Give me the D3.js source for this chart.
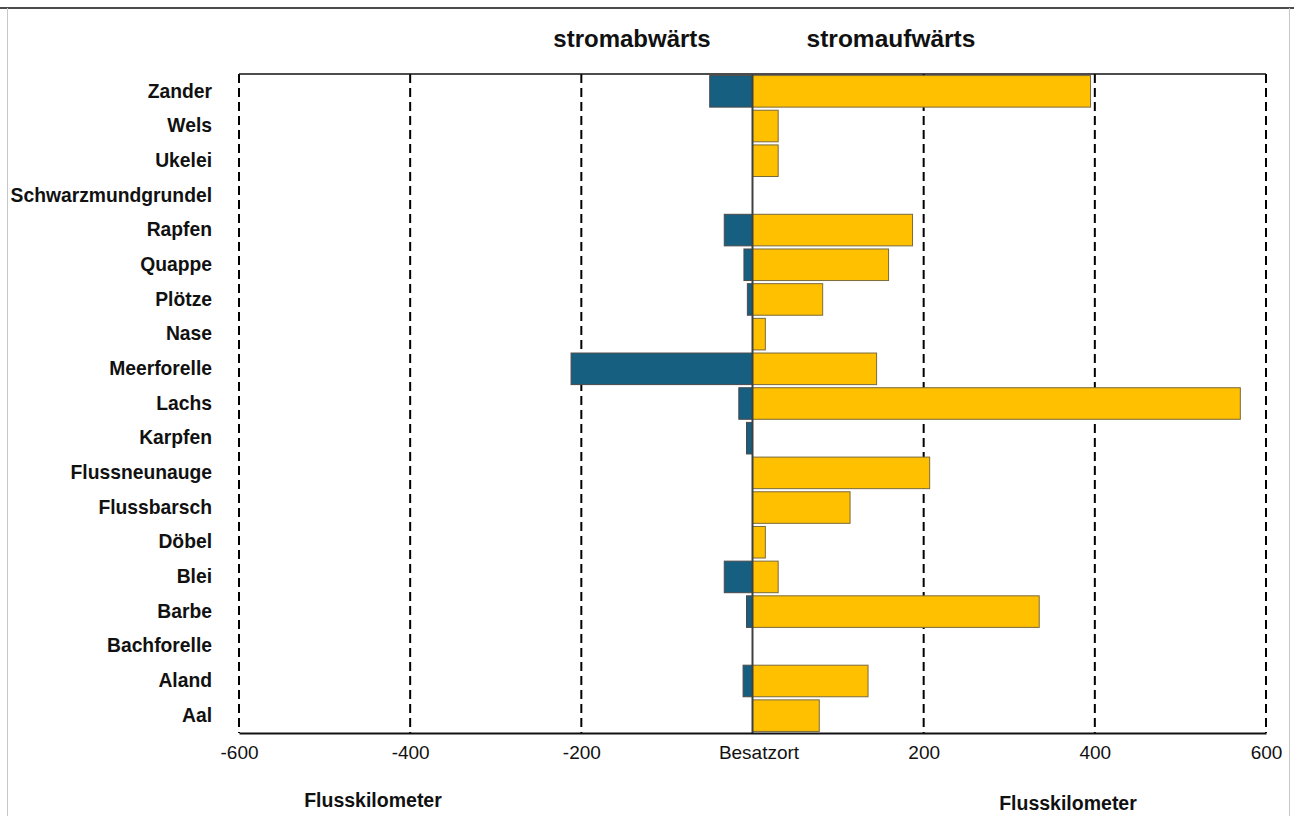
<!DOCTYPE html>
<html>
<head>
<meta charset="utf-8">
<script src="https://cdn.jsdelivr.net/npm/d3@7/dist/d3.min.js"></script>
<style>
  html, body { margin: 0; padding: 0; background: #fff; }
  svg { display: block; font-family: "Liberation Sans", Arial, sans-serif; }
</style>
</head>
<body>
<svg id="chart" width="1294" height="816"></svg>
<script>
// Fish species (top to bottom)
const species = ["Zander", "Wels", "Ukelei", "Schwarzmundgrundel", "Rapfen", "Quappe", "Plötze",
  "Nase", "Meerforelle", "Lachs", "Karpfen", "Flussneunauge", "Flussbarsch", "Döbel",
  "Blei", "Barbe", "Bachforelle", "Aland", "Aal"];
// Maximum distance migrated downstream (km, negative)
const downstream = [-50, 0, 0, 0, -33, -10, -6, 0, -212, -16, -7, 0, 0, 0, -33, -7, 0, -11, 0];
// Maximum distance migrated upstream (km)
const upstream = [395, 30, 30, 0, 187, 159, 82, 15, 145, 570, 0, 207, 114, 15, 30, 335, 0, 135, 78];
// Axis ticks
const tickValues = [-600, -400, -200, 0, 200, 400, 600];
const tickLabels = ["-600", "-400", "-200", "Besatzort", "200", "400", "600"];

const svg = d3.select("#chart");
const plotLeft = 239, plotRight = 1266, plotTop = 74, plotBottom = 733;
const font = "'Liberation Sans', Arial, sans-serif";

const x = d3.scaleLinear().domain([-600, 600]).range([plotLeft, plotRight]);
const y = d3.scaleBand().domain(species).range([plotTop, plotBottom]).paddingInner(0.09).paddingOuter(0.045);

// Outer frame
svg.append("line").attr("x1", 0).attr("x2", 1294).attr("y1", 8).attr("y2", 8)
  .attr("stroke", "#111").attr("stroke-width", 1.5);
svg.append("line").attr("x1", 7.5).attr("x2", 7.5).attr("y1", 8).attr("y2", 816)
  .attr("stroke", "#c8c8c8").attr("stroke-width", 1);
svg.append("line").attr("x1", 1289.5).attr("x2", 1289.5).attr("y1", 8).attr("y2", 816)
  .attr("stroke", "#c8c8c8").attr("stroke-width", 1);

// Dashed gridlines
svg.append("g").selectAll("line")
  .data(tickValues.filter(d => d !== 0))
  .join("line")
  .attr("x1", d => x(d)).attr("x2", d => x(d))
  .attr("y1", plotTop).attr("y2", plotBottom)
  .attr("stroke", "#000").attr("stroke-width", 2)
  .attr("stroke-dasharray", "9,5");

// Top border of plot area
svg.append("line").attr("x1", plotLeft).attr("x2", plotRight).attr("y1", plotTop).attr("y2", plotTop)
  .attr("stroke", "#111").attr("stroke-width", 1.5);

// Bars
const dsColor = "#175f80", usColor = "#ffc000";
svg.append("g").selectAll("rect")
  .data(species.map((s, i) => ({ s, v: downstream[i] })).filter(d => d.v !== 0))
  .join("rect")
  .attr("x", d => x(d.v)).attr("width", d => x(0) - x(d.v))
  .attr("y", d => y(d.s)).attr("height", y.bandwidth())
  .attr("fill", dsColor).attr("stroke", "#4a4a4a").attr("stroke-width", 1);

svg.append("g").selectAll("rect")
  .data(species.map((s, i) => ({ s, v: upstream[i] })).filter(d => d.v !== 0))
  .join("rect")
  .attr("x", x(0)).attr("width", d => x(d.v) - x(0))
  .attr("y", d => y(d.s)).attr("height", y.bandwidth())
  .attr("fill", usColor).attr("stroke", "#7a6a3a").attr("stroke-width", 1);

// Release site axis line
svg.append("line").attr("x1", x(0)).attr("x2", x(0)).attr("y1", plotTop).attr("y2", plotBottom)
  .attr("stroke", "#404040").attr("stroke-width", 2);

// Bottom axis
const xAxis = d3.axisBottom(x).tickValues(tickValues)
  .tickFormat((d, i) => tickLabels[i]).tickSize(0).tickPadding(13);
const gx = svg.append("g").attr("transform", `translate(0,${plotBottom})`).call(xAxis);
gx.select(".domain").attr("stroke", "#111").attr("stroke-width", 2);
gx.selectAll("text").attr("font-size", 19).attr("fill", "#111").attr("font-family", font)
  .attr("dx", d => d === 0 ? 6 : 0);

// Category labels
const yAxis = d3.axisLeft(y).tickSize(0).tickPadding(27);
const gy = svg.append("g").attr("transform", `translate(${plotLeft},0)`).call(yAxis);
gy.select(".domain").remove();
gy.selectAll("text").attr("font-size", 19.3).attr("font-weight", "bold").attr("fill", "#111")
  .attr("font-family", font);

// Direction headers
svg.append("text").attr("x", 632).attr("y", 47).attr("text-anchor", "middle")
  .attr("font-size", 24).attr("font-weight", "bold").attr("fill", "#111").text("stromabwärts");
svg.append("text").attr("x", 891).attr("y", 47).attr("text-anchor", "middle")
  .attr("font-size", 24.5).attr("font-weight", "bold").attr("fill", "#111").text("stromaufwärts");

// Axis titles
svg.append("text").attr("x", 373).attr("y", 807).attr("text-anchor", "middle")
  .attr("font-size", 19.5).attr("font-weight", "bold").attr("fill", "#111").text("Flusskilometer");
svg.append("text").attr("x", 1068).attr("y", 810).attr("text-anchor", "middle")
  .attr("font-size", 19.5).attr("font-weight", "bold").attr("fill", "#111").text("Flusskilometer");
</script>
</body>
</html>
